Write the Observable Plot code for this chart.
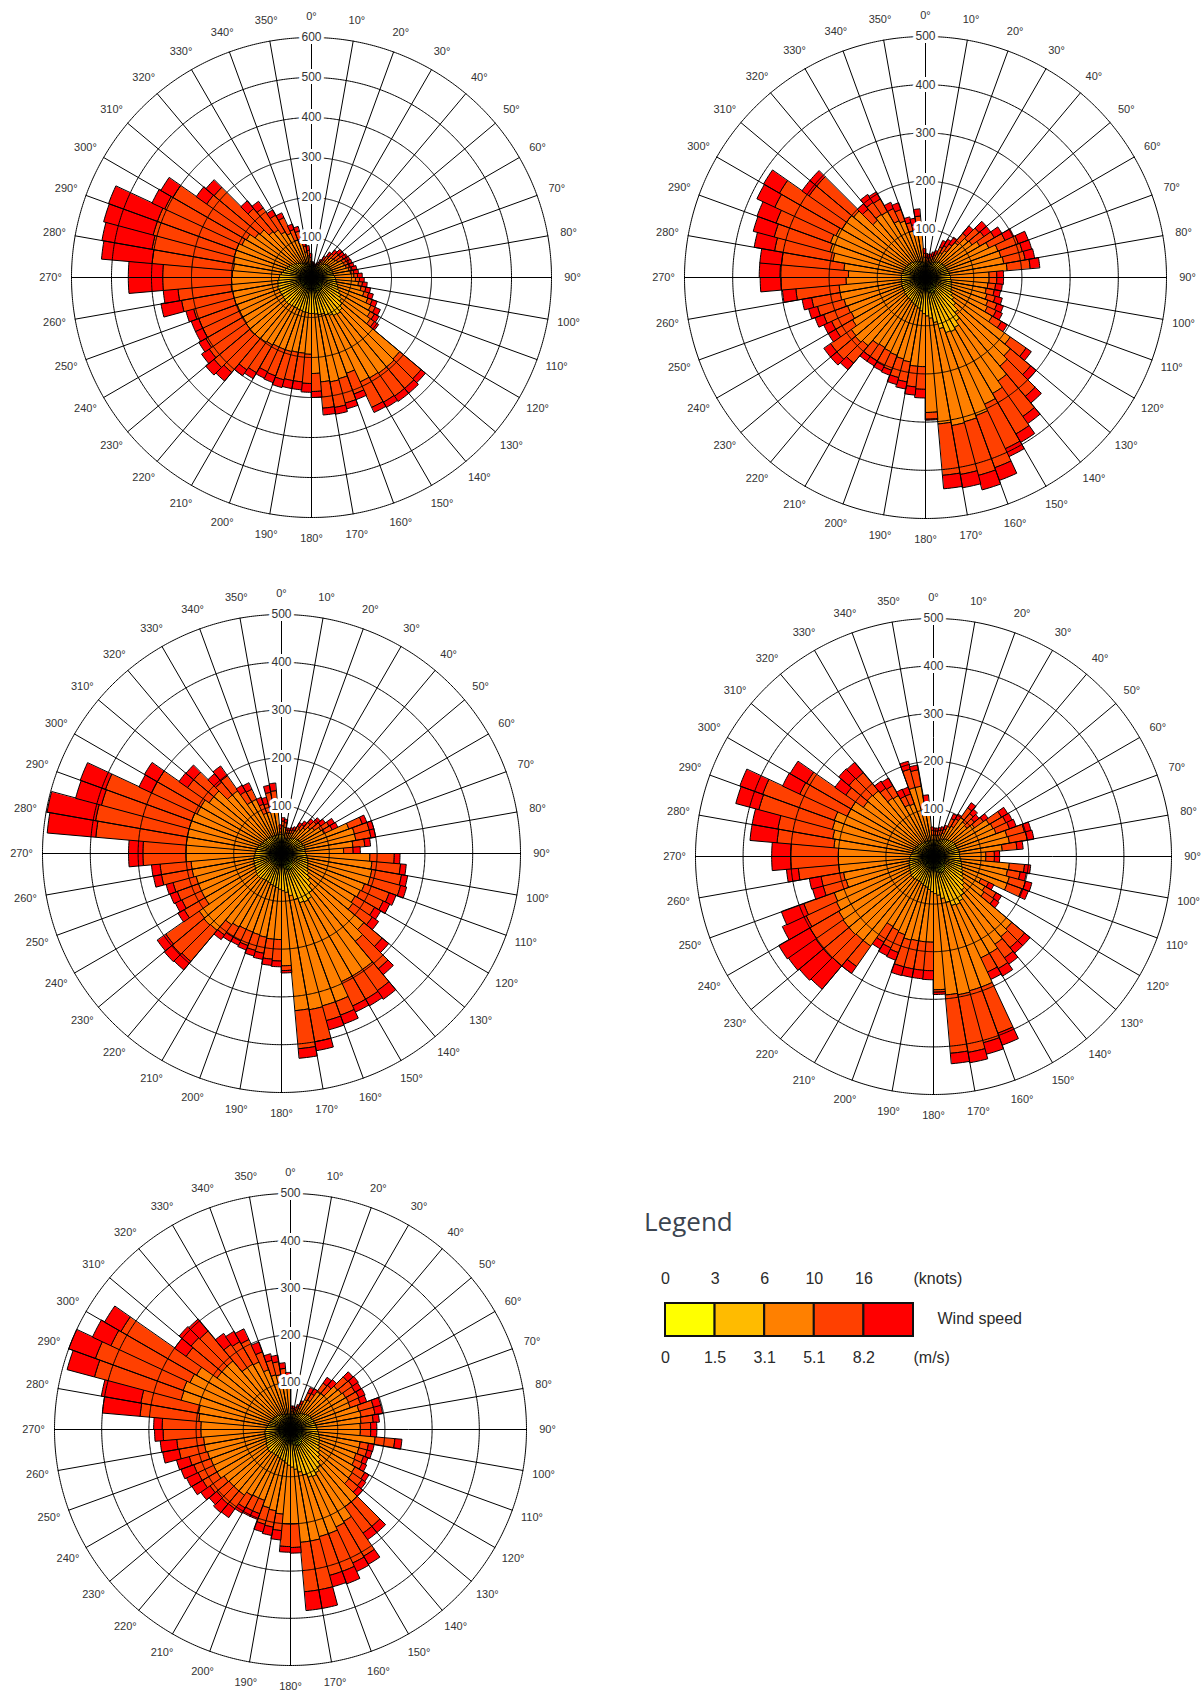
<!DOCTYPE html>
<html>
<head>
<meta charset="utf-8">
<script src="https://cdn.jsdelivr.net/npm/d3@7"></script>
<script src="https://cdn.jsdelivr.net/npm/@observablehq/plot@0.6"></script>
<style>
  html, body { margin: 0; padding: 0; background: #fff; }
  #page { position: relative; width: 1203px; height: 1693px; overflow: hidden; background: #fff;
          font-family: Arial, "Liberation Sans", sans-serif; }
  #page svg { position: absolute; }
  #legendTitle { position: absolute; left: 644px; top: 1208px; font: 26px/26px "Open Sans", sans-serif; color: #3b4450; }
</style>
</head>
<body>
<div id="page"><div id="legendTitle">Legend</div></div>
<script>
// ---------------- DATA ----------------
const binStarts = d3.range(0, 360, 5);               // 5° direction bins (start angle)
const binWidth = 5;
const speedClasses = ["0–1.5 m/s", "1.5–3.1 m/s", "3.1–5.1 m/s", "5.1–8.2 m/s", "> 8.2 m/s"];
const speedColors  = ["#FFFF00", "#FFBB00", "#FF8000", "#FF4000", "#FF0000"];
const knotTicks = ["0", "3", "6", "10", "16"];
const msTicks   = ["0", "1.5", "3.1", "5.1", "8.2"];
const directionTicks = d3.range(0, 360, 10);

// Cumulative counts per direction bin (0–5°, 5–10°, ... 355–360°),
// summed up to the upper bound of each wind-speed class.
// ---- Rose 1 ----
const r1_upTo1_5 = [14,13,12,12,13,14, 16,18,19,20,20,20, 20,20,21,21,22,22, 23,24,25,26,27,29, 31,33,35,37,38,38, 37,36,35,34,33,32, 32,31,31,30,30,30, 30,30,31,31,30,30, 30,30,31,30,30,29, 28,27,26,25,24,23, 22,21,20,19,18,17, 16,16,15,15,14,14];
const r1_upTo3_1 = [28,27,25,25,27,30, 35,40,44,48,50,52, 52,52,54,55,55,58, 60,62,65,68,72,78, 85,92,100,108,112,110, 105,100,95,95,92,90, 90,88,88,86,86,85, 85,86,88,88,86,85, 86,86,88,86,85,82, 80,76,72,68,65,62, 58,55,52,48,45,42, 40,38,36,34,32,30];
const r1_upTo5_1 = [34,32,30,30,33,38, 44,52,62,70,72,76, 86,88,90,95,98,106, 110,118,126,136,150,164, 170,180,288,292,292,290, 288,255,262,265,262,240, 192,190,190,192,192,192, 195,198,200,202,200,198, 198,198,200,200,202,200, 198,196,198,200,200,192, 188,172,168,150,145,132, 122,100,95,65,55,40];
const r1_upTo8_2 = [37,35,32,32,36,44, 52,66,78,88,88,92, 95,97,98,103,106,115, 120,128,138,148,162,176, 182,192,358,362,362,360, 358,310,325,330,328,285, 265,262,262,265,262,260, 275,282,310,318,312,305, 300,300,305,330,335,372, 372,400,405,410,410,405, 400,320,318,225,212,180, 165,128,120,80,68,50];
const r1_total   = [40,38,35,35,40,50, 62,78,90,100,100,104, 106,108,110,115,118,127, 132,140,150,160,175,190, 195,205,372,378,378,375, 372,325,340,347,345,300, 287,282,282,285,280,278, 292,300,338,345,335,325, 320,320,325,382,372,458, 458,527,532,538,540,440, 435,352,345,250,232,195, 178,142,132,92,80,60];
// ---- Rose 2 ----
const r2_upTo1_5 = [14,13,13,14,14,15, 16,17,17,18,18,18, 18,19,19,20,20,20, 20,21,21,22,22,23, 24,26,28,30,33,35, 36,35,33,31,29,28, 27,26,25,24,24,23, 23,22,22,22,22,21, 21,21,21,20,20,20, 20,20,19,19,19,18, 18,18,17,17,16,16, 16,15,15,15,14,14];
const r2_upTo3_1 = [30,28,28,30,32,35, 38,40,42,44,45,46, 46,48,48,50,50,52, 52,54,55,56,58,60, 65,72,82,95,110,120, 124,122,110,95,85,80, 75,70,65,62,60,58, 56,55,55,54,54,52, 52,52,52,50,50,50, 50,50,48,48,46,46, 45,44,43,42,40,40, 38,36,35,34,32,30];
const r2_upTo5_1 = [35,33,35,38,42,55, 60,68,95,115,118,130, 145,160,162,165,170,132, 132,130,128,132,138,142, 160,215,230,240,262,278, 290,305,310,312,305,280, 185,185,178,175,172,170, 168,170,185,190,188,175, 170,172,175,180,180,165, 160,170,195,205,210,205, 200,200,195,155,160,158, 130,125,100,95,110,42];
const r2_upTo8_2 = [42,40,42,46,50,70, 76,85,120,145,148,165, 182,205,208,210,218,148, 148,146,145,150,158,162, 182,255,285,322,352,375, 392,420,425,415,412,294, 232,228,220,215,205,202, 200,200,232,240,240,215, 215,225,232,240,270,300, 302,300,318,325,330,345, 350,295,295,185,190,188, 158,150,118,112,128,50];
const r2_total   = [50,48,50,55,60,85, 92,102,140,165,165,183, 202,227,228,230,238,162, 162,160,158,165,172,176, 196,268,300,340,370,395, 410,448,456,443,440,296, 250,245,235,230,216,214, 212,212,250,257,257,233, 233,244,251,260,298,343, 345,345,361,370,372,386, 388,313,313,200,210,205, 172,165,130,125,143,60];
// ---- Rose 3 ----
const r3_upTo1_5 = [16,15,14,14,14,15, 16,17,18,18,19,19, 19,20,20,20,20,20, 21,22,22,23,24,25, 26,28,30,33,36,38, 38,37,35,32,30,29, 28,27,27,26,26,26, 26,26,27,27,26,25, 25,25,24,24,23,23, 22,22,21,20,20,19, 19,18,18,18,17,17, 17,17,16,16,16,16];
const r3_upTo3_1 = [40,38,32,32,33,35, 38,40,42,44,45,46, 47,48,50,50,50,50, 52,54,56,58,60,62, 65,70,78,88,100,110, 112,110,100,90,82,78, 75,72,70,68,66,65, 65,66,68,68,66,64, 62,62,60,60,58,56, 55,54,52,50,48,46, 45,44,43,42,42,41, 40,40,40,40,40,40];
const r3_upTo5_1 = [58,55,44,44,45,48, 56,62,70,78,84,95, 98,150,158,158,150,130, 185,190,192,192,185,182, 178,182,225,240,296,296, 296,330,330,332,330,235, 180,180,178,176,175,175, 178,182,210,212,210,185, 185,185,185,190,190,200, 200,200,200,200,200,195, 195,185,185,160,160,125, 125,90,90,100,100,45];
const r3_upTo8_2 = [68,65,50,50,52,55, 66,74,85,95,100,115, 117,180,190,190,175,150, 236,250,255,258,240,235, 225,232,275,315,350,352, 352,360,362,400,410,245, 225,222,212,210,205,202, 202,208,295,298,295,235, 230,232,235,255,255,290, 290,390,395,390,392,300, 300,240,240,195,198,150, 148,110,108,130,132,52];
const r3_total   = [75,72,55,55,58,62, 75,83,95,106,112,128, 130,190,200,200,187,165, 248,262,268,271,255,250, 240,248,293,331,372,368, 366,380,382,419,430,250, 237,235,225,222,215,212, 213,220,318,320,317,250, 245,248,250,272,273,320, 320,492,498,446,448,329, 331,262,261,218,223,165, 163,125,122,145,148,60];
// ---- Rose 4 ----
const r4_upTo1_5 = [15,15,15,15,16,17, 18,19,19,20,20,21, 21,21,22,22,22,22, 23,23,24,25,26,27, 28,30,32,34,36,38, 38,37,35,33,31,30, 29,28,27,26,26,25, 25,25,26,26,25,24, 24,23,23,22,22,21, 21,20,20,19,19,18, 18,18,17,17,16,16, 16,15,15,15,15,15];
const r4_upTo3_1 = [35,35,35,36,38,40, 42,45,46,48,50,52, 52,52,54,55,55,55, 56,58,60,62,65,68, 72,78,85,92,100,108, 112,110,100,90,82,78, 74,70,66,64,62,60, 60,60,62,62,60,58, 56,55,54,52,50,50, 48,46,45,44,42,42, 40,40,38,38,36,36, 36,35,35,35,35,35];
const r4_upTo5_1 = [45,45,46,48,52,70, 74,100,95,92,105,135, 138,140,160,162,145,110, 110,160,158,165,165,110, 125,130,215,220,225,235, 235,292,292,295,292,280, 180,180,180,182,175,172, 170,230,230,232,232,230, 225,222,190,192,200,200, 200,210,215,220,222,200, 200,180,182,180,150,148, 120,118,150,150,100,45];
const r4_upTo8_2 = [54,54,56,58,62,88, 92,125,118,112,128,165, 168,170,198,200,176,128, 128,192,185,200,198,128, 152,155,250,250,260,272, 268,395,405,418,415,285, 240,240,240,240,215,212, 208,282,300,302,302,300, 295,290,240,240,285,300, 300,330,332,380,382,310, 308,225,232,230,175,172, 140,140,190,185,115,55];
const r4_total   = [60,60,62,65,70,99, 103,138,130,125,140,180, 182,185,212,214,189,139, 139,205,198,214,212,140, 165,168,265,265,276,290, 285,422,430,440,437,290, 259,258,258,259,232,230, 224,300,364,368,372,375, 350,340,263,265,310,340, 340,387,387,430,433,350, 348,253,260,258,193,190, 156,155,207,195,130,62];
// ---- Rose 5 ----
const r5_upTo1_5 = [14,14,14,15,15,16, 17,18,19,19,20,20, 20,21,21,22,22,22, 23,24,25,26,27,28, 29,31,33,35,37,38, 38,37,35,33,31,30, 29,28,28,27,27,26, 26,26,27,27,26,25, 25,24,24,23,23,22, 22,21,21,20,20,19, 19,18,18,17,17,16, 16,16,15,15,15,14];
const r5_upTo3_1 = [32,32,32,34,36,38, 40,42,44,46,48,50, 50,52,52,54,55,56, 58,60,62,64,66,68, 72,76,82,90,98,106, 110,108,100,92,85,80, 76,72,68,66,64,62, 62,62,64,64,62,60, 58,56,56,55,55,54, 52,50,48,46,45,44, 43,42,41,40,38,37, 36,35,34,34,33,33];
const r5_upTo5_1 = [38,38,37,42,48,70, 72,98,100,130,132,135, 136,135,150,152,150,148, 148,180,150,150,148,150, 158,160,162,200,200,225, 228,235,235,240,240,200, 200,180,175,172,160,160, 162,170,170,170,172,180, 180,180,182,185,185,190, 190,195,198,240,242,235, 230,190,190,190,160,160, 158,135,120,118,105,92];
const r5_upTo8_2 = [45,45,43,50,58,86, 88,120,122,158,160,158, 160,158,182,182,176,170, 170,222,168,168,165,168, 182,185,188,268,268,310, 312,320,320,345,345,250, 248,215,210,208,190,190, 192,205,206,204,208,215, 216,218,222,240,242,270, 272,320,322,430,440,420, 415,270,275,272,220,215, 210,175,152,146,130,108];
const r5_total   = [50,50,48,55,65,98, 100,135,138,173,175,173, 174,172,198,198,189,183, 183,237,180,179,175,178, 192,195,200,285,285,330, 332,348,345,385,385,262, 260,235,228,225,203,203, 205,228,230,225,232,241, 243,247,250,275,277,288, 290,400,407,490,500,463, 455,300,308,305,248,240, 235,197,166,160,142,121];

const roseSeries = [
  [r1_upTo1_5, r1_upTo3_1, r1_upTo5_1, r1_upTo8_2, r1_total],
  [r2_upTo1_5, r2_upTo3_1, r2_upTo5_1, r2_upTo8_2, r2_total],
  [r3_upTo1_5, r3_upTo3_1, r3_upTo5_1, r3_upTo8_2, r3_total],
  [r4_upTo1_5, r4_upTo3_1, r4_upTo5_1, r4_upTo8_2, r4_total],
  [r5_upTo1_5, r5_upTo3_1, r5_upTo5_1, r5_upTo8_2, r5_total]
];
const roseAxisMax = [600, 500, 500, 500, 500];
const ringStep = 100;

// ---------------- LAYOUT ----------------
const roseLayout = [
  {cx: 311, cy: 277,  R: 240},
  {cx: 925, cy: 277,  R: 241},
  {cx: 281, cy: 853,  R: 239},
  {cx: 933, cy: 856,  R: 238},
  {cx: 290, cy: 1429, R: 236}
];
const PAD = 44;         // room around the outer ring for labels
const LABEL_GAP = 21;   // px beyond outer ring
const K = 0.1;          // arc degrees per count on the projection sphere

const page = document.getElementById("page");
const lon = (dir) => 180 - dir;          // compass bearing -> longitude (north at top, clockwise)
const lat = (r) => 90 - r * K;           // radial value -> latitude

function wedgeGeometry(w) {
  const L0 = lon(w.d0), L1 = lon(w.d1);
  const latIn = lat(Math.max(w.r0, 0.05)), latOut = lat(w.r1);
  const n = 5, ring = [];
  for (let s = 0; s <= n; s++) ring.push([L1 + (L0 - L1) * s / n, latIn]);
  for (let s = 0; s <= n; s++) ring.push([L0 - (L0 - L1) * s / n, latOut]);
  ring.push(ring[0]);
  return {type: "Polygon", coordinates: [ring]};
}

roseSeries.forEach((series, ri) => {
  const {cx, cy, R} = roseLayout[ri];
  const axisMax = roseAxisMax[ri];
  const wedges = [];
  binStarts.forEach((d0, i) => {
    let prev = 0;
    series.forEach((cum, k) => {
      const v = Math.max(prev, cum[i]);
      if (v > prev) wedges.push({d0, d1: d0 + binWidth, r0: prev, r1: v, cls: speedClasses[k]});
      prev = v;
    });
  });
  const rings = d3.range(ringStep, axisMax + 1, ringStep);
  const labelR = (R + LABEL_GAP) * axisMax / R;
  const size = 2 * (R + PAD);
  const svg = Plot.plot({
    width: size, height: size, margin: 0,
    style: {background: "transparent", overflow: "visible", fontFamily: "Arial, 'Liberation Sans', sans-serif"},
    projection: {
      type: "azimuthal-equidistant",
      rotate: [0, -90],
      inset: PAD,
      domain: d3.geoCircle().center([0, 90]).radius(axisMax * K).precision(0.5)()
    },
    color: {domain: speedClasses, range: speedColors},
    marks: [
      Plot.geo(wedges, {geometry: wedgeGeometry, fill: "cls", stroke: "#000", strokeWidth: 1}),
      Plot.geo(rings, {geometry: (v) => d3.geoCircle().center([0, 90]).radius(v * K).precision(0.5)(),
                       fill: "none", stroke: "#000", strokeWidth: 1}),
      Plot.geo(directionTicks, {geometry: (d) => ({type: "LineString", coordinates: [[lon(d), 89.9999], [lon(d), lat(axisMax)]]}),
                                stroke: "#000", strokeWidth: 1}),
      Plot.text(directionTicks, {x: (d) => lon(d), y: () => lat(labelR), text: (d) => `${d}°`,
                                 fontSize: 11, fill: "#333"}),
      Plot.text(rings, {x: () => 180, y: (v) => lat(v), text: (v) => String(v),
                        fontSize: 12, fill: "#333", stroke: "white", strokeWidth: 6})
    ]
  });
  svg.style.left = (cx - R - PAD) + "px";
  svg.style.top = (cy - R - PAD) + "px";
  page.appendChild(svg);
});

// ---------------- LEGEND ----------------
const legend = Plot.plot({
  width: 430, height: 120, margin: 0,
  style: {background: "transparent", overflow: "visible", fontFamily: "Arial, 'Liberation Sans', sans-serif"},
  x: {domain: [0, 5], range: [25, 273], axis: null},
  y: {domain: [0, 120], range: [0, 120], axis: null},
  color: {domain: speedClasses, range: speedColors},
  marks: [
    Plot.rect(speedClasses, {x1: (d, i) => i, x2: (d, i) => i + 1, y1: () => 43, y2: () => 76,
                             fill: (d) => d, stroke: "#111", strokeWidth: 2}),
    Plot.text(knotTicks, {x: (d, i) => i, y: () => 18, text: (d) => d, fontSize: 16, fill: "#2a2a2a"}),
    Plot.text(["(knots)"], {x: () => 5, y: () => 18, text: (d) => d, textAnchor: "start", fontSize: 16, fill: "#2a2a2a"}),
    Plot.text(msTicks, {x: (d, i) => i, y: () => 97, text: (d) => d, fontSize: 16, fill: "#2a2a2a"}),
    Plot.text(["(m/s)"], {x: () => 5, y: () => 97, text: (d) => d, textAnchor: "start", fontSize: 16, fill: "#2a2a2a"}),
    Plot.text(["Wind speed"], {x: () => 5, y: () => 58, dx: 24, text: (d) => d, textAnchor: "start", fontSize: 16, fill: "#2a2a2a"})
  ]
});
legend.style.left = "640px";
legend.style.top = "1260px";
page.appendChild(legend);
</script>
</body>
</html>
